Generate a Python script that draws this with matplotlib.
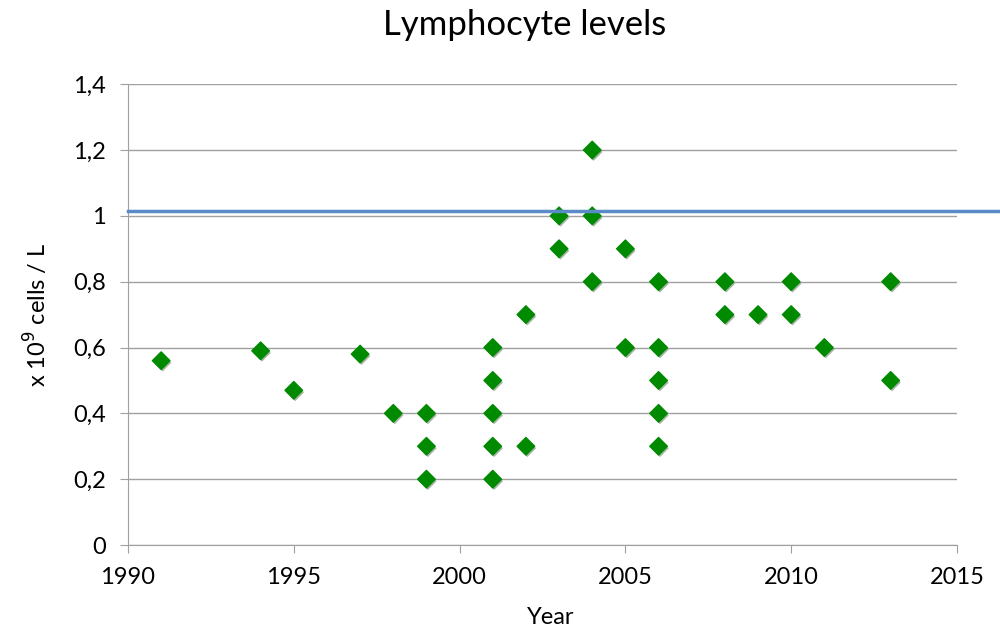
import matplotlib
matplotlib.use('Agg')
import matplotlib.pyplot as plt
from matplotlib.ticker import FuncFormatter
import matplotlib.patheffects as pe

plt.rcParams['font.family'] = ['Lato', 'DejaVu Sans']

years = [1991, 1994, 1995, 1997, 1998,
         1999, 1999, 1999,
         2001, 2001, 2001, 2001, 2001,
         2002, 2002, 2003, 2003, 2004, 2004, 2004,
         2005, 2005,
         2006, 2006, 2006, 2006, 2006,
         2008, 2008, 2009, 2010, 2010, 2011, 2013, 2013]
lymph = [0.56, 0.59, 0.47, 0.58, 0.40,
         0.40, 0.30, 0.20,
         0.60, 0.50, 0.40, 0.30, 0.20,
         0.70, 0.30, 1.00, 0.90, 1.20, 1.00, 0.80,
         0.90, 0.60,
         0.80, 0.60, 0.50, 0.40, 0.30,
         0.80, 0.70, 0.70, 0.80, 0.70, 0.60, 0.80, 0.50]
ref_level = 1.016

fig = plt.figure(figsize=(10, 6.33), dpi=100)
ax = fig.add_axes([0.128, 0.139, 0.829, 0.728])

ax.set_xlim(1990, 2015)
ax.set_ylim(0, 1.4)
ax.set_xticks(range(1990, 2016, 5))
ax.set_yticks([0, 0.2, 0.4, 0.6, 0.8, 1.0, 1.2, 1.4])
ax.yaxis.set_major_formatter(FuncFormatter(lambda v, p: f'{v:g}'.replace('.', ',')))
ax.grid(axis='y', color='#a0a0a0', linewidth=1)
ax.set_axisbelow(True)

for s in ['top', 'right']:
    ax.spines[s].set_visible(False)
for s in ['left', 'bottom']:
    ax.spines[s].set_color('#a0a0a0')
ax.tick_params(axis='both', colors='#a0a0a0', labelcolor='black', labelsize=17,
               length=6, direction='out')
ax.tick_params(axis='y', pad=10)
ax.tick_params(axis='x', pad=10)

ax.scatter(years, lymph, marker='D', s=80, color='#008a00', zorder=3,
           path_effects=[pe.SimplePatchShadow(offset=(1, -1.5), alpha=0.35), pe.Normal()])

# reference line runs past the plot area to the figure edge
ax.plot([1990, 2016.3], [ref_level, ref_level], color='#5b8ac8', linewidth=2.5,
        clip_on=False, zorder=4)

fig.text(0.525, 0.96, 'Lymphocyte levels', fontsize=25, ha='center', va='center')
ax.set_xlabel('Year', fontsize=17)
ax.xaxis.set_label_coords(0.51, -0.135)
ax.set_ylabel('x 10$^9$ cells / L', fontsize=17, labelpad=16)

fig.savefig('out.png')
